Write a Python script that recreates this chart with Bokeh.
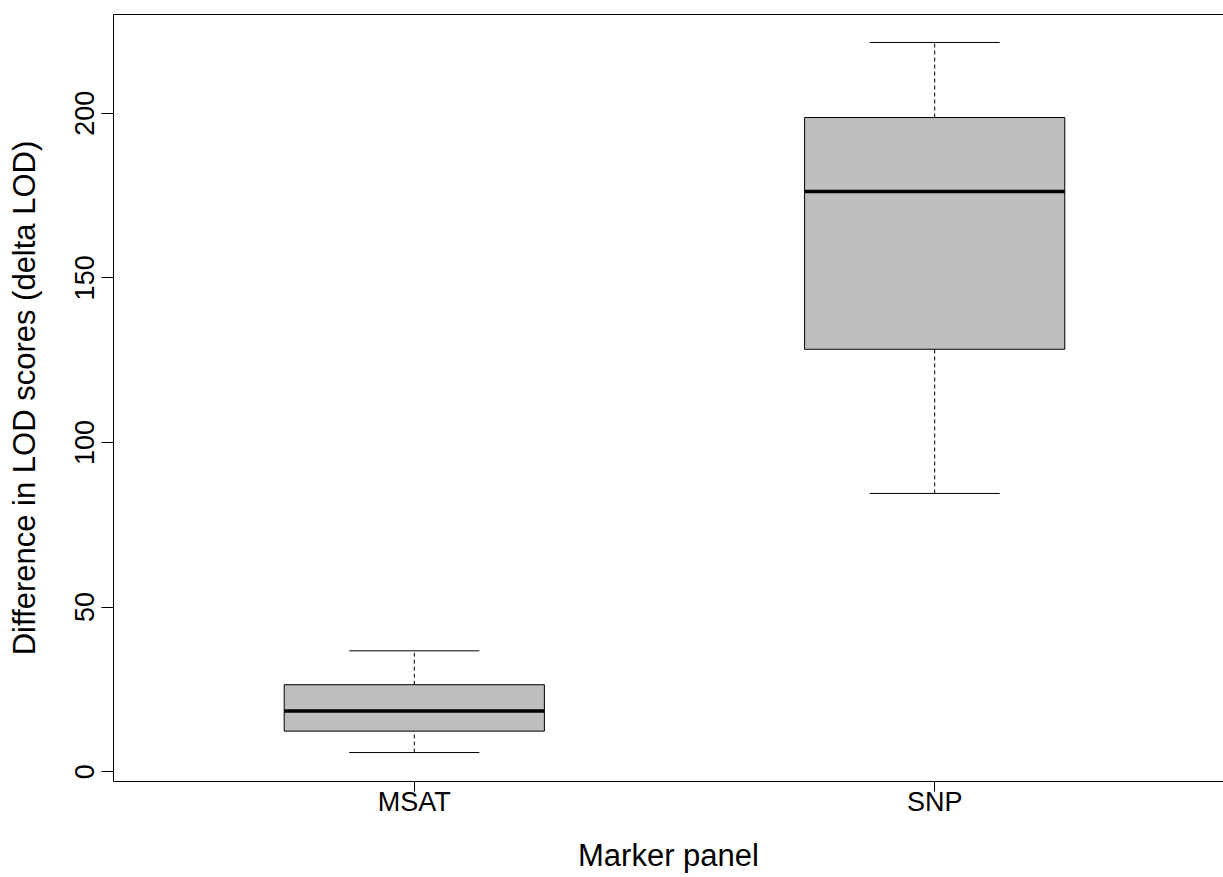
from bokeh.plotting import figure
from bokeh.models import FixedTicker, LinearAxis, ColumnDataSource, Range1d
from bokeh.embed import file_html
from bokeh.resources import INLINE

# ---- data ----
categories = ["MSAT", "SNP"]
whisker_low = [5.8, 84.5]
q1 = [12.3, 128.3]
median = [18.4, 176.2]
q3 = [26.4, 198.7]
whisker_high = [36.7, 221.5]
y_ticks = [0, 50, 100, 150, 200]

FONT = "Liberation Sans"
pos = [i + 1 for i in range(len(categories))]
box_half = 0.25
staple_half = 0.125

src = ColumnDataSource(dict(
    x=pos,
    left=[x - box_half for x in pos],
    right=[x + box_half for x in pos],
    sl=[x - staple_half for x in pos],
    sr=[x + staple_half for x in pos],
    lo=whisker_low, q1=q1, med=median, q3=q3, hi=whisker_high,
))

p = figure(width=1223, height=877, output_backend="svg", toolbar_location=None,
           x_range=Range1d(0.422, 2.555), y_range=Range1d(-3.0, 230.0),
           min_border_left=113, min_border_right=0, min_border_top=14, min_border_bottom=96,
           background_fill_color="white", border_fill_color="white")
p.outline_line_color = None
p.grid.visible = False

# whiskers (dashed)
p.segment(x0="x", x1="x", y0="q3", y1="hi", source=src, line_color="black",
          line_width=1, line_dash="4 3")
p.segment(x0="x", x1="x", y0="lo", y1="q1", source=src, line_color="black",
          line_width=1, line_dash="4 3")
# staples
p.segment(x0="sl", x1="sr", y0="hi", y1="hi", source=src, line_color="black", line_width=1)
p.segment(x0="sl", x1="sr", y0="lo", y1="lo", source=src, line_color="black", line_width=1)
# boxes
p.quad(left="left", right="right", bottom="q1", top="q3", source=src,
       fill_color="#BEBEBE", line_color="black", line_width=1)
# medians
p.segment(x0="left", x1="right", y0="med", y1="med", source=src, line_color="black", line_width=3.5)

# x axis
xa = p.xaxis[0]
xa.ticker = FixedTicker(ticks=pos)
xa.major_label_overrides = {x: c for x, c in zip(pos, categories)}
xa.minor_tick_line_color = None
xa.major_tick_in = 0
xa.major_tick_out = 10
xa.major_label_standoff = -5
xa.major_label_text_font = FONT
xa.major_label_text_font_size = "27px"
xa.major_label_text_color = "black"
xa.axis_line_color = "black"
xa.major_tick_line_color = "black"
xa.axis_label = "Marker panel"
xa.axis_label_text_font = FONT
xa.axis_label_text_font_size = "31px"
xa.axis_label_text_font_style = "normal"
xa.axis_label_text_color = "black"
xa.axis_label_standoff = 18

# y axis
ya = p.yaxis[0]
ya.ticker = FixedTicker(ticks=y_ticks)
ya.minor_tick_line_color = None
ya.major_tick_in = 0
ya.major_tick_out = 12
ya.major_label_standoff = 7
ya.major_label_orientation = "vertical"
ya.major_label_text_font = FONT
ya.major_label_text_font_size = "27px"
ya.major_label_text_color = "black"
ya.axis_line_color = "black"
ya.major_tick_line_color = "black"
ya.axis_label = "Difference in LOD scores (delta LOD)"
ya.axis_label_text_font = FONT
ya.axis_label_text_font_size = "31px"
ya.axis_label_text_font_style = "normal"
ya.axis_label_text_color = "black"
ya.axis_label_standoff = 31

# top border line
top = LinearAxis(ticker=FixedTicker(ticks=[]), major_tick_out=0, major_tick_in=0,
                 minor_tick_out=0, minor_tick_in=0, major_label_standoff=0,
                 axis_label_standoff=0, axis_line_color="black")
p.add_layout(top, "above")

open("out.html", "w").write(file_html(p, INLINE))
